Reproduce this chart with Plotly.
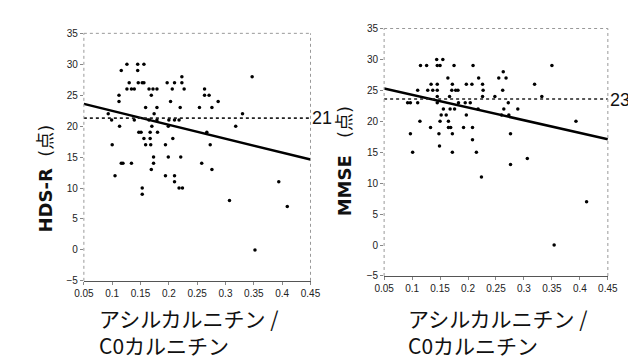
import plotly.graph_objects as go

# ---------------- data ----------------
# HDS-R vs acylcarnitine / C0 carnitine
hds_x = [0.126, 0.145, 0.156,
         0.116, 0.145,
         0.223, 0.347,
         0.130, 0.146, 0.153, 0.156, 0.197, 0.210, 0.223,
         0.126, 0.134, 0.139, 0.165, 0.172, 0.179, 0.206, 0.227, 0.263,
         0.112, 0.169, 0.263, 0.271,
         0.112, 0.203, 0.287,
         0.159, 0.179, 0.220, 0.254, 0.276,
         0.093, 0.174, 0.330,
         0.099, 0.139, 0.165, 0.179, 0.200, 0.210, 0.218,
         0.113, 0.170, 0.199, 0.318,
         0.147, 0.151, 0.167, 0.180, 0.267,
         0.156, 0.167, 0.207,
         0.100, 0.159, 0.168, 0.194, 0.273,
         0.173, 0.199, 0.221,
         0.116, 0.119, 0.134, 0.173, 0.258,
         0.169, 0.276,
         0.105, 0.194, 0.210,
         0.210, 0.394,
         0.153, 0.218, 0.224,
         0.153, 0.307, 0.409, 0.352]
hds_y = [30, 30, 30,
         29, 29,
         28, 28,
         27, 27, 27, 27, 27, 27, 27,
         26, 26, 26, 26, 26, 26, 26, 26, 26,
         25, 25, 25, 25,
         24, 24, 24,
         23, 23, 23, 23, 23,
         22, 22, 22,
         21, 21, 21, 21, 21, 21, 21,
         20, 20, 20, 20,
         19, 19, 19, 19, 19,
         18, 18, 18,
         17, 17, 17, 17, 17,
         15, 15, 15,
         14, 14, 14, 14, 14,
         13, 13,
         12, 12, 12,
         11, 11,
         10, 10, 10,
         9, 8, 7, 0]

# MMSE vs acylcarnitine / C0 carnitine
mmse_x = [0.144, 0.155,
          0.115, 0.126, 0.145, 0.150, 0.175, 0.209, 0.350,
          0.263,
          0.164, 0.219, 0.255, 0.268,
          0.134, 0.145, 0.172, 0.197, 0.207, 0.226, 0.319,
          0.110, 0.128, 0.137, 0.145, 0.171, 0.178, 0.182, 0.227, 0.262,
          0.145, 0.167, 0.226, 0.248, 0.332,
          0.092, 0.097, 0.110, 0.145, 0.183, 0.195, 0.204, 0.272,
          0.156, 0.168, 0.176, 0.218, 0.264, 0.289,
          0.152, 0.161, 0.197, 0.260, 0.273,
          0.114, 0.150, 0.165, 0.393,
          0.133, 0.165, 0.169, 0.192, 0.208,
          0.097, 0.148, 0.172, 0.276,
          0.208, 0.149,
          0.101, 0.172, 0.215,
          0.306, 0.276, 0.224, 0.412, 0.354]
mmse_y = [30, 30,
          29, 29, 29, 29, 29, 29, 29,
          28,
          27, 27, 27, 27,
          26, 26, 26, 26, 26, 26, 26,
          25, 25, 25, 25, 25, 25, 25, 25, 25,
          24, 24, 24, 24, 24,
          23, 23, 23, 23, 23, 23, 23, 23,
          22, 22, 22, 22, 22, 22,
          21, 21, 21, 21, 21,
          20, 20, 20, 20,
          19, 19, 19, 19, 19,
          18, 18, 18, 18,
          17, 16,
          15, 15, 15,
          14, 13, 11, 7, 0]

# regression lines (values at the x-range ends) and cut-off lines
fit_x = [0.05, 0.45]
hds_fit_y = [23.6, 14.6]
mmse_fit_y = [25.3, 17.1]
hds_cut = 21.3
mmse_cut = 23.6
cut_labels = ["21", "23"]

x_ticks = [0.05, 0.1, 0.15, 0.2, 0.25, 0.3, 0.35, 0.4, 0.45]
x_tick_text = ["0.05", "0.1", "0.15", "0.2", "0.25", "0.3", "0.35", "0.4", "0.45"]
y_ticks = [-5, 0, 5, 10, 15, 20, 25, 30, 35]
x_title = ["アシルカルニチン /", "C0カルニチン"]
y_titles = ["<b>HDS-R</b>  (点)", "<b>MMSE</b>   (点)"]

# ---------------- figure ----------------
W, H = 636, 361
fig = go.Figure()

dom_x = [[68 / W, 302 / W], [378 / W, 609 / W]]
dom_y = [[1 - 276 / H, 1 - 20 / H], [1 - 271 / H, 1 - 15 / H]]

series = [(hds_x, hds_y, hds_fit_y, hds_cut), (mmse_x, mmse_y, mmse_fit_y, mmse_cut)]
for i, (sx, sy, fy, cut) in enumerate(series):
    xa = "x" if i == 0 else "x2"
    ya = "y" if i == 0 else "y2"
    fig.add_trace(go.Scatter(x=sx, y=sy, mode="markers", xaxis=xa, yaxis=ya,
                             marker=dict(size=3.5, color="black", symbol="circle"),
                             showlegend=False))
    fig.add_trace(go.Scatter(x=fit_x, y=fy, mode="lines", xaxis=xa, yaxis=ya,
                             line=dict(color="black", width=2.5), showlegend=False))
    fig.add_trace(go.Scatter(x=fit_x, y=[cut, cut], mode="lines", xaxis=xa, yaxis=ya,
                             line=dict(color="#222", width=1.6, dash="dot"), showlegend=False))

tick_font = dict(family="Liberation Sans Narrow, Arial Narrow, Liberation Sans, sans-serif",
                 size=10, color="#222")
for i in range(2):
    suf = "" if i == 0 else "2"
    fig.update_layout(**{
        "xaxis" + suf: dict(domain=dom_x[i], range=[0.05, 0.45], tickvals=x_ticks,
                            ticktext=x_tick_text, ticks="outside", ticklen=3,
                            tickcolor="#888", showgrid=False, zeroline=False,
                            showline=True, linecolor="#555", linewidth=1,
                            tickfont=tick_font, anchor="y" + suf, fixedrange=True),
        "yaxis" + suf: dict(domain=dom_y[i], range=[-5, 35], tickvals=y_ticks,
                            ticks="outside", ticklen=3, tickcolor="#888",
                            showgrid=False, zeroline=False, showline=False,
                            tickfont=tick_font, anchor="x" + suf, fixedrange=True),
    })
    # dotted frame (top, left, right)
    x0, x1 = dom_x[i]
    y0, y1 = dom_y[i]
    for (a, b, c, d) in [(x0, y1, x1, y1), (x0, y0, x0, y1), (x1, y0, x1, y1)]:
        fig.add_shape(type="line", xref="paper", yref="paper", x0=a, y0=b, x1=c, y1=d,
                      line=dict(color="#999", width=1, dash="dot"))

ann = []
# x titles (two lines, left aligned)
for i, x_left in enumerate([82, 401]):
    ann.append(dict(text="<br>".join(x_title), xref="paper", yref="paper", x=x_left / W,
                    y=1 - 328 / H, xanchor="left", yanchor="middle", align="left",
                    showarrow=False,
                    font=dict(family="Noto Sans CJK JP", size=21, color="#111")))
# y titles
for i, (xc, yc) in enumerate([(28, 170), (338, 152)]):
    ann.append(dict(text=y_titles[i], xref="paper", yref="paper", x=xc / W, y=1 - yc / H,
                    xanchor="center", yanchor="middle", textangle=-90, showarrow=False,
                    font=dict(family="DejaVu Sans, Noto Sans CJK JP", size=18, color="#111")))
# cut-off labels
for i, (xc, yc) in enumerate([(314, 108), (622, 89)]):
    ann.append(dict(text=cut_labels[i], xref="paper", yref="paper", x=xc / W, y=1 - yc / H,
                    xanchor="center", yanchor="middle", showarrow=False,
                    font=dict(family="Liberation Sans, Arial, sans-serif", size=18, color="#111")))

fig.update_layout(width=W, height=H, margin=dict(l=0, r=0, t=0, b=0),
                  paper_bgcolor="white", plot_bgcolor="white", annotations=ann)

fig.write_html("out.html")
